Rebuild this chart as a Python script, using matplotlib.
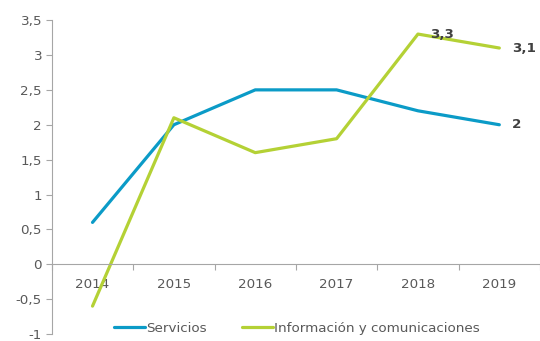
import matplotlib.pyplot as plt
from matplotlib.ticker import FixedLocator, FuncFormatter
import numpy as np

years = ['2014', '2015', '2016', '2017', '2018', '2019']
servicios = [0.6, 2.0, 2.5, 2.5, 2.2, 2.0]
info_com = [-0.6, 2.1, 1.6, 1.8, 3.3, 3.1]

blue = '#0b9bc7'
green = '#b4d135'
grey = '#595959'
axis_grey = '#a6a6a6'
fs = 9.7

fig = plt.figure(figsize=(5.4, 3.41), dpi=100)
ax = fig.add_axes([0.096, 0.0205, 0.904, 0.9205])

x = np.arange(len(years))
ax.plot(x, servicios, color=blue, lw=2.3, label='Servicios', solid_capstyle='round')
ax.plot(x, info_com, color=green, lw=2.3, label='Información y comunicaciones',
        solid_capstyle='round')

# value labels for the last points
ax.annotate('3,3', (4, info_com[4]), xytext=(9, 0), textcoords='offset points',
            fontsize=fs, fontweight='bold', color='#404040', va='center')
ax.annotate('3,1', (5, info_com[5]), xytext=(9, 0), textcoords='offset points',
            fontsize=fs, fontweight='bold', color='#404040', va='center')
ax.annotate('2', (5, servicios[5]), xytext=(9, 0), textcoords='offset points',
            fontsize=fs, fontweight='bold', color='#404040', va='center')

ax.set_xlim(-0.5, 5.5)
ax.set_ylim(-1, 3.5)
ax.set_yticks(np.arange(-1, 3.51, 0.5))
ax.yaxis.set_major_formatter(FuncFormatter(lambda v, p: f'{v:g}'.replace('.', ',')))

ax.spines['top'].set_visible(False)
ax.spines['right'].set_visible(False)
ax.spines['bottom'].set_position(('data', 0))
for s in ('left', 'bottom'):
    ax.spines[s].set_color(axis_grey)
    ax.spines[s].set_linewidth(0.8)

ax.xaxis.set_major_locator(FixedLocator(np.arange(-0.5, 5.6, 1)))
ax.xaxis.set_major_formatter(FuncFormatter(lambda v, p: ''))
ax.xaxis.set_minor_locator(FixedLocator(x))
ax.set_xticklabels(years, minor=True)
ax.tick_params(axis='x', which='major', length=4, color=axis_grey, direction='out')
ax.tick_params(axis='x', which='minor', length=0, pad=10, labelsize=fs, labelcolor=grey)
ax.tick_params(axis='y', length=4, color=axis_grey, labelsize=fs, labelcolor=grey, pad=3)

ax.legend(loc='center', bbox_to_anchor=(0.55, 0.038), bbox_transform=fig.transFigure,
          ncol=2, frameon=False, fontsize=fs, handlelength=2.3, handletextpad=0.1,
          columnspacing=2.6, labelcolor=grey)

fig.savefig('out.png', dpi=100)
